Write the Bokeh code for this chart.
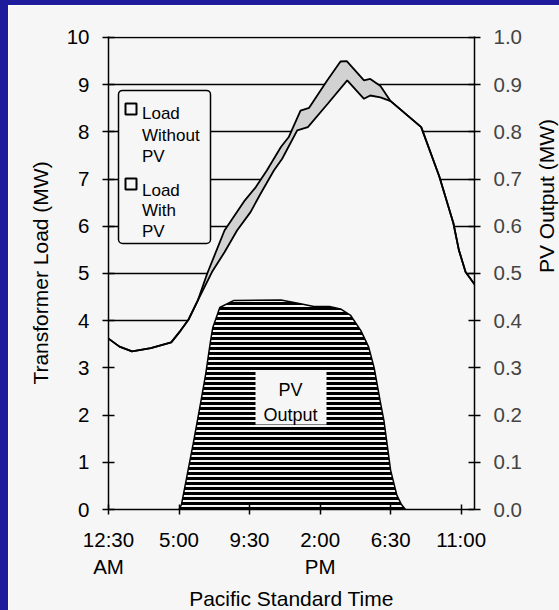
import math
from bokeh.plotting import figure
from bokeh.models import (Range1d, LinearAxis, FixedTicker, BoxAnnotation, Label,
                          PrintfTickFormatter)
from bokeh.embed import file_html
from bokeh.resources import INLINE

# ---------------- data (hours of day, MW) ----------------
load_without_pv_t = [0.5, 1.2, 2.0, 3.2, 4.5, 5.1, 5.6, 6.2, 6.8, 7.9, 9.2, 9.9, 10.6, 11.5,
                     12.0, 12.75, 13.3, 14.45, 15.3, 15.7, 16.8, 17.2, 17.85, 18.5, 20.45,
                     21.6, 22.5, 22.85, 23.28, 23.85]
load_without_pv = [3.62, 3.45, 3.35, 3.42, 3.54, 3.79, 4.02, 4.43, 5.0, 5.91, 6.55, 6.83, 7.18,
                   7.68, 7.89, 8.45, 8.51, 9.09, 9.49, 9.5, 9.09, 9.12, 8.97, 8.65, 8.1,
                   7.06, 6.07, 5.5, 5.03, 4.77]

load_with_pv_t = [0.5, 1.2, 2.0, 3.2, 4.5, 5.1, 5.6, 6.2, 7.1, 7.9, 8.7, 9.56, 10.2, 11.05,
                  11.58, 12.54, 13.22, 14.5, 15.73, 16.8, 17.2, 17.85, 18.5, 20.45, 21.6,
                  22.5, 22.85, 23.28, 23.85]
load_with_pv = [3.62, 3.45, 3.35, 3.42, 3.54, 3.79, 4.02, 4.43, 5.03, 5.45, 5.91, 6.3, 6.69,
                7.18, 7.43, 8.03, 8.1, 8.6, 9.09, 8.7, 8.77, 8.73, 8.65, 8.1, 7.06, 6.07,
                5.5, 5.03, 4.77]

pv_t = [5.0, 5.15, 5.5, 5.94, 6.4, 6.7, 7.0, 7.15, 7.6, 8.5, 11.5, 12.75, 13.6, 14.6, 15.3,
        15.95, 16.6, 17.1, 17.45, 17.86, 18.07, 18.5, 18.9, 19.2, 19.45]
pv_output = [0.0, 0.01, 0.07, 0.146, 0.23, 0.287, 0.355, 0.385, 0.428, 0.443, 0.444, 0.436,
             0.43, 0.43, 0.425, 0.411, 0.379, 0.344, 0.30, 0.225, 0.189, 0.083, 0.03, 0.01, 0.0]

x_ticks = [0.5, 5, 9.5, 14, 18.5, 23]
x_tick_labels = ["12:30\nAM", "5:00", "9:30", "2:00\nPM", "6:30", "11:00"]
left_ticks = [0, 1, 2, 3, 4, 5, 6, 7, 8, 9, 10]
right_ticks = [0.0, 0.1, 0.2, 0.3, 0.4, 0.5, 0.6, 0.7, 0.8, 0.9, 1.0]

x_title = "Pacific Standard Time"
left_title = "Transformer Load (MW)"
right_title = "PV Output (MW)"
legend_lines_1 = ["Load", "Without", "PV"]
legend_lines_2 = ["Load", "With", "PV"]
pv_box_lines = ["PV", "Output"]

# ---------------- layout helpers (page pixels -> data) ----------------
X0, X1 = 0.5, 23.85
PAGE_FRAME_L, PAGE_FRAME_R, PAGE_FRAME_B = 108, 474, 509
PX_PER_UNIT = 47.2


def px_t(xp):
    return X0 + (xp - PAGE_FRAME_L) * (X1 - X0) / (PAGE_FRAME_R - PAGE_FRAME_L)


def px_y(yp):
    return (PAGE_FRAME_B - yp) / PX_PER_UNIT


BG = "#f6f6f6"
BLUE = "#1e1b9c"
FONT = "Liberation Sans"

# the blue slide frame (8px left, 5px top) is drawn as a CSS border
p = figure(width=564, height=610, x_range=Range1d(X0, X1), y_range=Range1d(0, 10.02),
           output_backend="svg", toolbar_location=None,
           min_border_left=100, min_border_right=98, min_border_top=31, min_border_bottom=106,
           background_fill_color=BG, border_fill_color=BG, outline_line_color=None,
           styles={"border-left": f"8px solid {BLUE}", "border-top": f"5px solid {BLUE}"})
p.extra_y_ranges = {"pv": Range1d(0, 1.002)}

# grid
p.xgrid.visible = False
p.ygrid.ticker = FixedTicker(ticks=left_ticks)
p.ygrid.grid_line_color = "black"
p.ygrid.grid_line_width = 1.5

# axes
for ax in (p.xaxis[0], p.yaxis[0]):
    ax.axis_line_width = 1.5
    ax.major_tick_line_width = 1.5
    ax.major_tick_in = 6
    ax.major_tick_out = 6
    ax.minor_tick_line_color = None
    ax.major_label_text_font = FONT
    ax.major_label_text_font_size = "20.5px"
    ax.major_label_text_color = "black"
    ax.axis_label_text_font = FONT
    ax.axis_label_text_font_size = "21px"
    ax.axis_label_text_font_style = "normal"
    ax.axis_label_text_color = "black"
    ax.major_label_standoff = 13

p.xaxis.ticker = FixedTicker(ticks=x_ticks)
p.xaxis.major_label_overrides = {t: lab for t, lab in zip(x_ticks, x_tick_labels)}
p.xaxis.axis_label = x_title
p.xaxis.axis_label_standoff = 6
p.xaxis.major_tick_in = 5
p.xaxis.major_tick_out = 5

p.yaxis.ticker = FixedTicker(ticks=left_ticks)
p.yaxis.axis_label = left_title
p.yaxis.axis_label_standoff = 12

right = LinearAxis(y_range_name="pv", ticker=FixedTicker(ticks=right_ticks),
                   formatter=PrintfTickFormatter(format="%.1f"), axis_label=right_title)
right.axis_line_width = 1.5
right.major_tick_line_width = 1.5
right.major_tick_in = 6
right.major_tick_out = 6
right.minor_tick_line_color = None
right.major_label_text_font = FONT
right.major_label_text_font_size = "20.5px"
right.major_label_standoff = 13
right.axis_label_text_font = FONT
right.axis_label_text_font_size = "21px"
right.axis_label_text_font_style = "normal"
right.axis_label_text_color = "black"
right.axis_label_standoff = 22
right.axis_label_orientation = math.pi / 2
p.add_layout(right, "right")

# white-out area under the load (hides grid lines)
p.varea(x=load_with_pv_t, y1=0, y2=load_with_pv, fill_color=BG)

# stippled band between the two load curves
band_x = list(load_without_pv_t) + list(reversed(load_with_pv_t))
band_y = list(load_without_pv) + list(reversed(load_with_pv))
p.patch(band_x, band_y, fill_color="#d2d2d2", line_color=None)

p.line(load_without_pv_t, load_without_pv, line_color="black", line_width=1.8)
p.line(load_with_pv_t, load_with_pv, line_color="black", line_width=1.8)

# PV output (hatched)
p.patch(pv_t, pv_output, y_range_name="pv", fill_color=BG,
        hatch_pattern="horizontal_line", hatch_color="black", hatch_scale=5,
        hatch_weight=3, line_color="black", line_width=1.5)

# PV output label box
p.add_layout(BoxAnnotation(left=px_t(255), right=px_t(326), top=px_y(371), bottom=px_y(424),
                           fill_color=BG, fill_alpha=1, line_color=None))
for txt, yb in zip(pv_box_lines, [390, 415]):
    p.add_layout(Label(x=px_t(290), y=px_y(yb), text=txt, text_align="center",
                       text_baseline="alphabetic", text_font=FONT, text_font_size="18px",
                       text_color="black"))

# legend box
p.add_layout(BoxAnnotation(left=px_t(118), right=px_t(210), top=px_y(90), bottom=px_y(243),
                           fill_color=BG, fill_alpha=1, line_color="black", line_alpha=1,
                           line_width=1.5, border_radius=4))
for y_top in (103, 178):
    p.add_layout(BoxAnnotation(left=px_t(125), right=px_t(136), top=px_y(y_top),
                               bottom=px_y(y_top + 11), fill_color=BG, fill_alpha=1,
                               line_color="black", line_alpha=1, line_width=2))
for txt, yb in zip(legend_lines_1 + legend_lines_2, [113, 135, 156, 190, 210, 231]):
    p.add_layout(Label(x=px_t(141.5), y=px_y(yb), text=txt, text_align="left",
                       text_baseline="alphabetic", text_font=FONT, text_font_size="17px",
                       text_color="black"))

open("out.html", "w").write(file_html(p, INLINE))
